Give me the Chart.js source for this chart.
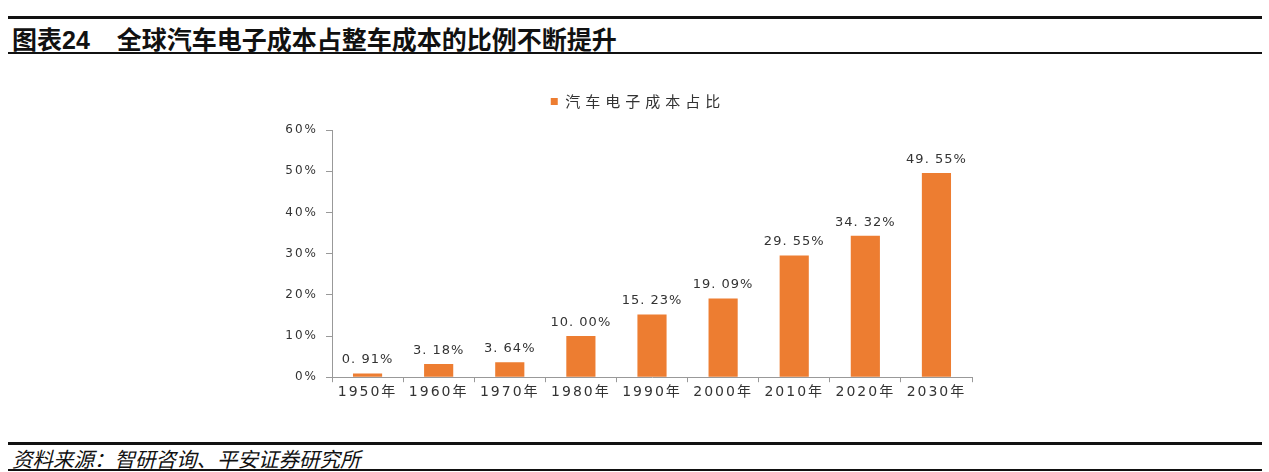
<!DOCTYPE html>
<html>
<head>
<meta charset="utf-8">
<script src="https://cdn.jsdelivr.net/npm/chart.js@4/dist/chart.umd.min.js"></script>
<style>
  body { margin: 0; width: 1269px; height: 472px; background: #fff; position: relative; overflow: hidden;
         font-family: "Noto Sans CJK SC", "Liberation Sans", sans-serif; }
  .line { position: absolute; left: 8px; width: 1254px; background: #111; }
  #title { position: absolute; left: 12px; top: 23px; font-size: 25px; font-weight: bold; color: #111; line-height: 30px; white-space: nowrap; }
  #title .num { font-family: "Liberation Sans", Arial, sans-serif; font-weight: bold; }
  #title .txt { margin-left: 27px; font-weight: 600; }
  #source { position: absolute; left: 12px; top: 445px; font-size: 20.5px; font-style: italic; color: #111; line-height: 26px; white-space: nowrap; }
  #wrap { position: absolute; left: 0; top: 60px; width: 1269px; height: 370px; }
</style>
</head>
<body>
<div class="line" style="top:16px;height:3px"></div>
<div id="title">图表<span class="num">24</span><span class="txt">全球汽车电子成本占整车成本的比例不断提升</span></div>
<div class="line" style="top:52px;height:2px"></div>
<div id="wrap"><canvas id="chart"></canvas></div>
<div class="line" style="top:442px;height:3px"></div>
<div id="source">资料来源：智研咨询、平安证券研究所</div>
<div class="line" style="top:469px;height:2px"></div>
<script>
var years = ['1950年', '1960年', '1970年', '1980年', '1990年', '2000年', '2010年', '2020年', '2030年'];
var shares = [0.91, 3.18, 3.64, 10.00, 15.23, 19.09, 29.55, 34.32, 49.55];
var yTicks = [0, 10, 20, 30, 40, 50, 60];
var seriesName = '汽车电子成本占比';

// wide letter spacing like the original figure
var spacing = {
  id: 'spacing',
  beforeUpdate: function (chart) { chart.ctx.letterSpacing = '2px'; },
  beforeDraw: function (chart) { chart.ctx.letterSpacing = '2px'; }
};

var valueLabels = {
  id: 'valueLabels',
  afterDatasetsDraw: function (chart) {
    var ctx = chart.ctx;
    var meta = chart.getDatasetMeta(0);
    ctx.save();
    ctx.letterSpacing = '1px';
    ctx.font = '13px "DejaVu Sans", "Noto Sans CJK SC", sans-serif';
    ctx.fillStyle = '#333';
    ctx.textAlign = 'center';
    ctx.textBaseline = 'bottom';
    meta.data.forEach(function (bar, i) {
      var s = shares[i].toFixed(2).replace('.', '. ') + '%';
      ctx.fillText(s, bar.x, bar.y - 7);
    });
    ctx.restore();
  }
};

var ctx = document.getElementById('chart').getContext('2d');
var myChart = new Chart(ctx, {
  type: 'bar',
  data: {
    labels: years,
    datasets: [{
      label: seriesName,
      data: shares,
      backgroundColor: '#ED7D31',
      barPercentage: 0.41,
      categoryPercentage: 1
    }]
  },
  options: {
    responsive: true,
    maintainAspectRatio: false,
    animation: false,
    layout: { padding: { left: 272, right: 297, top: 24, bottom: 27 } },
    plugins: {
      legend: {
        labels: {
          boxWidth: 7, boxHeight: 7, color: '#333',
          font: { size: 15, family: '"Noto Sans CJK SC", sans-serif' }
        }
      },
      tooltip: { enabled: false }
    },
    scales: {
      x: {
        grid: { display: true, drawOnChartArea: false, offset: true, color: '#999', tickLength: 5 },
        border: { color: '#999' },
        ticks: { color: '#333', font: { size: 14, family: '"DejaVu Sans", "Noto Sans CJK SC", sans-serif' }, padding: 2 }
      },
      y: {
        min: 0, max: 60,
        afterBuildTicks: function (s) { s.ticks = yTicks.map(function (v) { return { value: v }; }); },
        afterFit: function (s) { s.width = 60; },
        grid: { display: true, drawOnChartArea: false, color: '#999', tickLength: 6 },
        border: { color: '#999' },
        ticks: {
          color: '#333', padding: 8,
          font: { size: 12, family: '"DejaVu Sans", sans-serif' },
          callback: function (v) { return v + '%'; }
        }
      }
    }
  },
  plugins: [spacing, valueLabels]
});

// legend text is spaced out even more, sits a bit higher and a bit right of the plot centre
var lg = myChart.legend;
var origFit = lg.fit, origDraw = lg.draw;
lg.fit = function () {
  var c = this.ctx, prev = c.letterSpacing;
  c.letterSpacing = '5px';
  origFit.apply(this, arguments);
  c.letterSpacing = prev;
  this.height += 11;
};
lg.draw = function () {
  var c = this.ctx, prev = c.letterSpacing;
  c.save();
  c.translate(16, 0);
  c.letterSpacing = '5px';
  origDraw.apply(this, arguments);
  c.restore();
  c.letterSpacing = prev;
};
myChart.update();
</script>
</body>
</html>
